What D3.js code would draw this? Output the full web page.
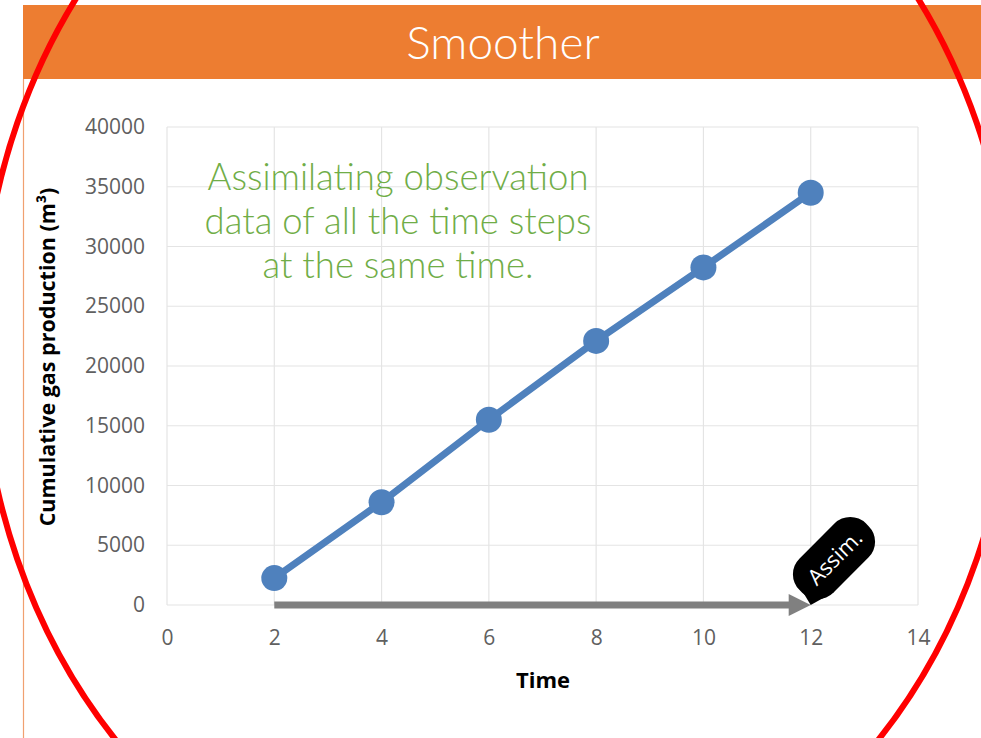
<!DOCTYPE html>
<html>
<head>
<meta charset="utf-8">
<script src="https://cdn.jsdelivr.net/npm/d3@7"></script>
<style>
  html, body { margin: 0; padding: 0; background: #fff; }
  svg { display: block; }
</style>
</head>
<body>
<svg id="chart" width="981" height="738"></svg>
<script>
// Cumulative gas production at each assimilation time step
const timeSteps = [2, 4, 6, 8, 10, 12];
const cumulativeGas = [2250, 8600, 15500, 22100, 28250, 34500];
const xTicks = [0, 2, 4, 6, 8, 10, 12, 14];
const yTicks = [0, 5000, 10000, 15000, 20000, 25000, 30000, 35000, 40000];
const titleText = "Smoother";
const noteLines = ["Assimilating observation", "data of all the time steps", "at the same time."];
const badgeText = "Assim.";

const svg = d3.select("#chart");

const x = d3.scaleLinear().domain([0, 14]).range([167, 918]);
const y = d3.scaleLinear().domain([0, 40000]).range([605, 127]);

// Header band
svg.append("rect").attr("x", 23).attr("y", 5).attr("width", 958).attr("height", 74)
  .attr("fill", "#ED7D31");
svg.append("line").attr("x1", 23.5).attr("x2", 23.5).attr("y1", 79).attr("y2", 738)
  .attr("stroke", "#F0A070").attr("stroke-width", 1.2);
svg.append("text").attr("x", 503).attr("y", 59).attr("text-anchor", "middle")
  .attr("font-family", "Lato, 'Open Sans', sans-serif").attr("font-weight", 300)
  .attr("font-size", 46).attr("fill", "#fff").text(titleText);

// Gridlines
const grid = svg.append("g");
grid.selectAll("line.h").data(yTicks).join("line").attr("class", "h")
  .attr("x1", x(0)).attr("x2", x(14)).attr("y1", d => y(d)).attr("y2", d => y(d))
  .attr("stroke", "#e4e4e4").attr("stroke-width", 1.2);
grid.selectAll("line.v").data(xTicks).join("line").attr("class", "v")
  .attr("x1", d => x(d)).attr("x2", d => x(d)).attr("y1", y(0)).attr("y2", y(40000))
  .attr("stroke", "#e4e4e4").attr("stroke-width", 1.2);

// Axes (labels only)
const tickFont = "'Open Sans', 'Noto Sans', sans-serif";
const yAxis = svg.append("g").attr("transform", `translate(${x(0)},0)`)
  .call(d3.axisLeft(y).tickValues(yTicks).tickSize(0).tickPadding(22).tickFormat(d3.format("d")));
const xAxis = svg.append("g").attr("transform", `translate(0,${y(0)})`)
  .call(d3.axisBottom(x).tickValues(xTicks).tickSize(0).tickPadding(25).tickFormat(d3.format("d")));
[xAxis, yAxis].forEach(a => {
  a.select(".domain").remove();
  a.selectAll("text").attr("font-family", tickFont).attr("font-size", 21).attr("fill", "#606060");
});

// Axis titles
svg.append("text").attr("x", 543).attr("y", 688).attr("text-anchor", "middle")
  .attr("font-family", tickFont).attr("font-weight", 700).attr("font-size", 22)
  .attr("fill", "#000").text("Time");
svg.append("text").attr("transform", "translate(55,357) rotate(-90)").attr("text-anchor", "middle")
  .attr("font-family", tickFont).attr("font-weight", 700).attr("font-size", 21.5)
  .attr("fill", "#000").text("Cumulative gas production (m³)");

// Assimilation window arrow
const arrowY = y(0);
svg.append("line").attr("x1", x(2)).attr("x2", x(12) - 20).attr("y1", arrowY).attr("y2", arrowY)
  .attr("stroke", "#808080").attr("stroke-width", 7);
svg.append("path")
  .attr("d", `M${x(12) - 22},${arrowY - 11}L${x(12)},${arrowY}L${x(12) - 22},${arrowY + 11}Z`)
  .attr("fill", "#808080");

// Data line and markers
const pts = timeSteps.map((t, i) => [x(t), y(cumulativeGas[i])]);
svg.append("path").attr("d", d3.line()(pts)).attr("fill", "none")
  .attr("stroke", "#4F81BD").attr("stroke-width", 7).attr("stroke-linejoin", "round");
svg.selectAll("circle.pt").data(pts).join("circle").attr("class", "pt")
  .attr("cx", d => d[0]).attr("cy", d => d[1]).attr("r", 13).attr("fill", "#4F81BD");

// Note text
const note = svg.append("text").attr("text-anchor", "middle")
  .attr("font-family", "Lato, 'Open Sans', sans-serif").attr("font-weight", 300)
  .attr("font-size", 36.5).attr("fill", "#70AD47");
noteLines.forEach((s, i) => {
  note.append("tspan").attr("x", 398).attr("y", 190 + i * 44).text(s);
});

// Callout badge pointing at the end of the window
const bx = 834, by = 558;
const badge = svg.append("g").attr("transform", `translate(${bx},${by}) rotate(-45)`);
const tipG = [x(12), y(0)];
const a = -45 * Math.PI / 180;
const dx = tipG[0] - bx, dy = tipG[1] - by;
const tip = [dx * Math.cos(-a) - dy * Math.sin(-a), dx * Math.sin(-a) + dy * Math.cos(-a)];
badge.append("rect").attr("x", -47).attr("y", -24).attr("width", 94).attr("height", 48)
  .attr("rx", 22).attr("fill", "#000");
badge.append("path").attr("d", `M-46,2L-24,24L${tip[0]},${tip[1]}Z`).attr("fill", "#000");
badge.append("text").attr("x", 1).attr("y", 8).attr("text-anchor", "middle")
  .attr("font-family", tickFont).attr("font-size", 22).attr("fill", "#fff").text(badgeText);

// Red highlight ellipse
svg.append("ellipse").attr("cx", 497).attr("cy", 341).attr("rx", 516).attr("ry", 592)
  .attr("fill", "none").attr("stroke", "#FF0000").attr("stroke-width", 6);
</script>
</body>
</html>
